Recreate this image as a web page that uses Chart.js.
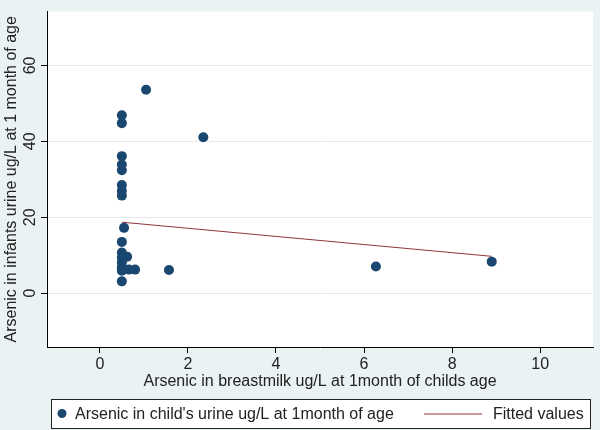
<!DOCTYPE html>
<html>
<head>
<meta charset="utf-8">
<script src="https://cdn.jsdelivr.net/npm/chart.js@4"></script>
<style>
  body { margin: 0; background: #eaf2f3; }
  canvas { display: block; }
</style>
</head>
<body>
<canvas id="chart" width="600" height="430"></canvas>
<script>
// arsenic in breastmilk (x) vs arsenic in infant urine (y)
const milkX = [0.5, 0.5, 0.5, 0.5, 0.5, 0.5, 0.5, 0.5, 0.55, 0.5, 0.5, 0.5, 0.5, 0.5, 0.5, 0.5,
               0.62, 0.66, 0.8, 1.05, 2.35, 1.57, 6.27, 8.9];
const urineY = [46.9, 44.8, 36.1, 33.9, 32.4, 28.5, 27.0, 25.7, 17.2, 13.5, 10.7, 9.4, 8.1, 6.8, 5.9, 3.1,
                9.6, 6.2, 6.2, 53.6, 41.1, 6.1, 7.0, 8.3];

// fitted line end points
const fitX = [0.5, 8.9];
const fitY = [18.7, 9.7];

const xTicks = [0, 2, 4, 6, 8, 10];
const yTicks = [0, 20, 40, 60];

const pointLabel = "Arsenic in child's urine ug/L at 1month of age";
const lineLabel = 'Fitted values';
const xTitle = 'Arsenic in breastmilk ug/L at 1month of childs age';
const yTitle = 'Arsenic in infants urine ug/L at 1 month of age';

const FONT = 'Liberation Sans, Arial, sans-serif';

const plotBg = {
  id: 'plotBg',
  beforeDraw(chart) {
    const { ctx, chartArea: a } = chart;
    ctx.save();
    ctx.fillStyle = '#eaf2f3';
    ctx.fillRect(0, 0, chart.width, chart.height);
    ctx.fillStyle = '#ffffff';
    ctx.fillRect(a.left, a.top, a.right - a.left, a.bottom - a.top);
    ctx.restore();
  }
};

// stata style legend: boxed, one row
const boxLegend = {
  id: 'boxLegend',
  afterDraw(chart) {
    const ctx = chart.ctx;
    const ds = chart.data.datasets;
    const top = chart.height - 31, h = 29;
    ctx.save();
    ctx.fillStyle = '#ffffff';
    ctx.fillRect(51, top, 540, h);
    ctx.strokeStyle = '#222';
    ctx.lineWidth = 1;
    ctx.strokeRect(51.5, top + 0.5, 539, h);
    const cy = top + h / 2;
    ctx.font = '16px ' + FONT;
    ctx.textBaseline = 'middle';
    ctx.fillStyle = ds[0].backgroundColor;
    ctx.beginPath();
    ctx.arc(62, cy, 4.5, 0, Math.PI * 2);
    ctx.fill();
    ctx.fillStyle = '#222';
    ctx.fillText(ds[0].label, 75, cy + 1);
    ctx.strokeStyle = ds[1].borderColor;
    ctx.beginPath();
    ctx.moveTo(424, cy + 0.5);
    ctx.lineTo(482, cy + 0.5);
    ctx.stroke();
    ctx.fillText(ds[1].label, 493, cy + 1);
    ctx.restore();
  }
};

new Chart(document.getElementById('chart'), {
  type: 'scatter',
  data: {
    datasets: [
      {
        label: pointLabel,
        data: milkX.map((x, i) => ({ x: x, y: urineY[i] })),
        backgroundColor: '#1a476f',
        borderColor: '#1a476f',
        pointRadius: 5,
        pointBorderWidth: 0
      },
      {
        label: lineLabel,
        type: 'line',
        data: fitX.map((x, i) => ({ x: x, y: fitY[i] })),
        borderColor: '#90353b',
        borderWidth: 1,
        pointRadius: 0,
        fill: false
      }
    ]
  },
  options: {
    responsive: false,
    animation: false,
    layout: { padding: { left: 0, top: 8, right: 7, bottom: 39 } },
    plugins: {
      legend: { display: false },
      tooltip: { enabled: false }
    },
    scales: {
      x: {
        type: 'linear',
        min: -1.2,
        max: 11.2,
        afterBuildTicks: s => { s.ticks = xTicks.map(v => ({ value: v })); },
        afterFit: s => { s.height = 44; },
        border: { display: true, color: '#000', width: 1 },
        grid: { drawOnChartArea: false, tickColor: '#000', tickLength: 6 },
        ticks: { color: '#222', font: { family: FONT, size: 16 }, padding: 2, maxRotation: 0 },
        title: { display: true, text: xTitle, color: '#222', font: { family: FONT, size: 16 }, padding: 0 }
      },
      y: {
        min: -14.2,
        max: 74.2,
        afterBuildTicks: s => { s.ticks = yTicks.map(v => ({ value: v })); },
        afterFit: s => { s.width = 47; },
        border: { display: true, color: '#000', width: 1 },
        grid: { color: '#e4e9ec', tickColor: '#000', tickLength: 6 },
        ticks: { color: '#222', font: { family: FONT, size: 16 }, padding: 2,
                 minRotation: 90, maxRotation: 90, crossAlign: 'center' },
        title: { display: true, text: yTitle, color: '#222', font: { family: FONT, size: 16 }, padding: 2 }
      }
    }
  },
  plugins: [plotBg, boxLegend]
});
</script>
</body>
</html>
